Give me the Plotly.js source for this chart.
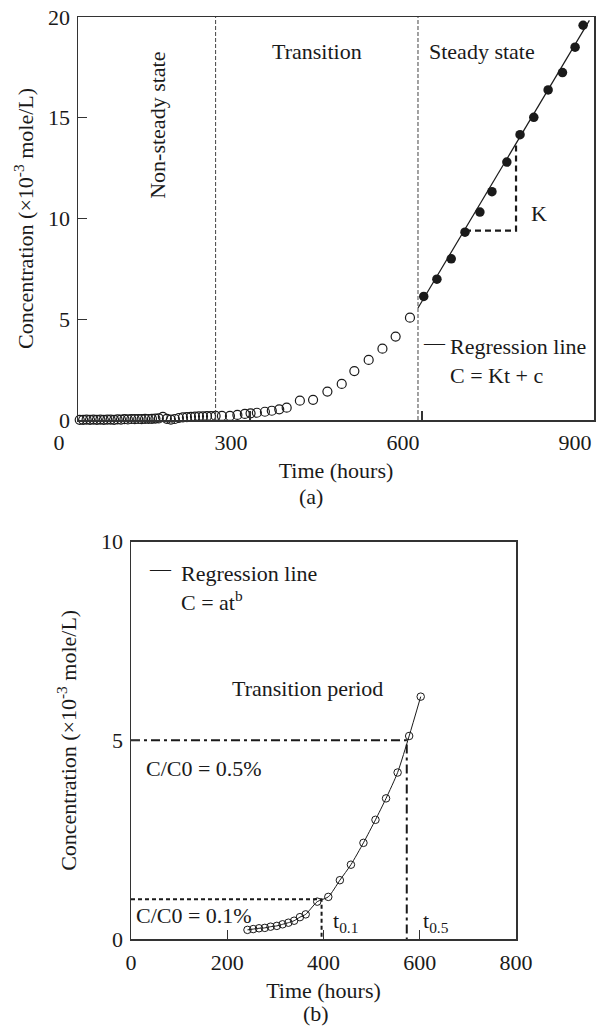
<!DOCTYPE html>
<html>
<head>
<meta charset="utf-8">
<script src="https://cdn.plot.ly/plotly-3.0.1.min.js"></script>
<style>html,body{margin:0;padding:0;background:#fff;}#chart{width:602px;height:1028px;}</style>
</head>
<body>
<div id="chart"></div>
<script>
// ---------- Panel (a) data ----------
const tA_open = [3, 9, 15, 21, 27, 33, 39, 45, 51, 57, 63, 69, 75, 81, 87, 93, 99, 105, 111, 117, 123, 129, 135, 141, 148, 155, 162, 169, 176, 183, 190, 197, 204, 211, 218, 225, 232, 240,
  251, 265, 278, 291, 301, 312, 326, 338, 351, 364, 387, 410, 435, 460, 482, 507, 531, 554, 579];
const cA_open = [0.01, 0.01, 0.02, 0.01, 0.02, 0.01, 0.02, 0.01, 0.02, 0.02, 0.01, 0.03, 0.02, 0.04, 0.03, 0.05, 0.04, 0.05, 0.04, 0.06, 0.05, 0.06, 0.07, 0.08, 0.16, 0.06, 0.02, 0.05, 0.10, 0.13, 0.14, 0.16, 0.17, 0.18, 0.18, 0.19, 0.19, 0.20,
  0.20, 0.20, 0.25, 0.30, 0.33, 0.36, 0.41, 0.46, 0.53, 0.61, 0.96, 1.00, 1.41, 1.79, 2.43, 2.98, 3.54, 4.14, 5.08];
const tA_fill = [603, 626, 651, 675, 701, 722, 748, 771, 795, 820, 845, 867, 881];
const cA_fill = [6.13, 6.99, 8.00, 9.32, 10.32, 11.33, 12.80, 14.16, 15.02, 16.38, 17.24, 18.50, 19.59];
const tA_reg = [593, 892];
const cA_reg = [5.56, 19.83];
const phaseBounds = [240, 593];
const kStep_t = [675, 764, 764];
const kStep_c = [9.4, 9.4, 13.8];
const xTicksA = [0, 300, 600, 900];
const yTicksA = [0, 5, 10, 15, 20];

// ---------- Panel (b) data ----------
const tB = [242, 254, 266, 278, 290, 303, 315, 327, 339, 351, 363, 387, 410, 434, 457, 483, 508, 530, 554, 578, 602];
const cB = [0.23, 0.25, 0.27, 0.28, 0.31, 0.33, 0.37, 0.41, 0.46, 0.55, 0.62, 0.94, 1.06, 1.48, 1.87, 2.42, 3.00, 3.54, 4.19, 5.11, 6.10];
const tB_half = [0, 573, 573];
const cB_half = [5, 5, 0];
const tB_tenth = [0, 396, 396];
const cB_tenth = [1, 1, 0];
const xTicksB = [0, 200, 400, 600, 800];
const yTicksB = [0, 5, 10];

const FONT = "Liberation Serif, Times New Roman, serif";
const INK = "#1a1a1a";
const FS = 22;

const traces = [
  {x: tA_open, y: cA_open, xaxis: 'x', yaxis: 'y', mode: 'markers', cliponaxis: false,
   marker: {symbol: 'circle-open', size: 9, color: INK, line: {width: 1.2, color: INK}}, showlegend: false},
  {x: tA_reg, y: cA_reg, xaxis: 'x', yaxis: 'y', mode: 'lines', line: {color: INK, width: 1.2}, showlegend: false},
  {x: tA_fill, y: cA_fill, xaxis: 'x', yaxis: 'y', mode: 'markers', cliponaxis: false,
   marker: {symbol: 'circle', size: 9.5, color: INK}, showlegend: false},
  {x: kStep_t, y: kStep_c, xaxis: 'x', yaxis: 'y', mode: 'lines', line: {color: INK, width: 2.2, dash: '6px,4px'}, showlegend: false},
  {x: tB_half, y: cB_half, xaxis: 'x2', yaxis: 'y2', mode: 'lines', line: {color: INK, width: 2, dash: '9px,4px,3px,4px'}, showlegend: false},
  {x: tB_tenth, y: cB_tenth, xaxis: 'x2', yaxis: 'y2', mode: 'lines', line: {color: INK, width: 2, dash: '4px,3px'}, showlegend: false},
  {x: tB, y: cB, xaxis: 'x2', yaxis: 'y2', mode: 'lines+markers', cliponaxis: false,
   line: {color: INK, width: 1, shape: 'spline', smoothing: 0.6},
   marker: {symbol: 'circle-open', size: 7.5, color: INK, line: {width: 1, color: INK}}, showlegend: false}
];

const shapes = phaseBounds.map(b => ({
  type: 'line', xref: 'x', yref: 'y', x0: b, x1: b, y0: 0, y1: 20,
  line: {color: '#444', width: 1, dash: '4px,2px'}
}));

const axisCommon = {
  showgrid: false, zeroline: false, showline: true, mirror: true,
  linecolor: '#333', linewidth: 1.5, ticks: 'inside', ticklen: 9, tickwidth: 1.3, tickcolor: '#333',
  tickfont: {family: FONT, size: FS, color: INK}, tickmode: 'array'
};

function ann(xref, yref, x, y, text, opts) {
  return Object.assign({xref: xref, yref: yref, x: x, y: y, text: text, showarrow: false,
    yanchor: 'middle', font: {family: FONT, size: FS, color: INK}}, opts || {});
}

const annotations = [
  ann('x', 'y', 139.5, 14.65, 'Non-steady state', {textangle: -90}),
  ann('x', 'y', 417, 18.3, 'Transition'),
  ann('x', 'y', 705, 18.3, 'Steady state'),
  ann('x', 'y', 804, 10.27, 'K'),
  ann('x', 'y', 622, 3.8, '—', {font: {family: FONT, size: 21, color: INK}}),
  ann('x', 'y', 645, 3.67, 'Regression line', {xanchor: 'left'}),
  ann('x', 'y', 645, 2.23, 'C = Kt + c', {xanchor: 'left'}),
  ann('paper', 'paper', 311/602, 1 - 496/1028, '(a)'),

  ann('x2', 'y2', 62, 9.32, '—', {font: {family: FONT, size: 21, color: INK}}),
  ann('x2', 'y2', 100, 9.2, 'Regression line', {xanchor: 'left'}),
  ann('x2', 'y2', 100, 8.52, 'C = at<sup>b</sup>', {xanchor: 'left'}),
  ann('x2', 'y2', 366.7, 6.31, 'Transition period'),
  ann('x2', 'y2', 151.7, 4.3, 'C/C0 = 0.5%'),
  ann('x2', 'y2', 129.9, 0.6, 'C/C0 = 0.1%'),
  ann('x2', 'y2', 416, 0.43, 't<sub>0.1</sub>', {xanchor: 'left'}),
  ann('x2', 'y2', 603, 0.43, 't<sub>0.5</sub>', {xanchor: 'left'}),
  ann('paper', 'paper', 316/602, 1 - 1027/1028, '(b)', {yanchor: 'bottom', borderpad: 0})
];

const layout = {
  width: 602, height: 1028,
  margin: {l: 0, r: 0, t: 0, b: 0, pad: 0},
  paper_bgcolor: '#fff', plot_bgcolor: '#fff',
  showlegend: false,
  font: {family: FONT, size: FS, color: INK},
  xaxis: Object.assign({}, axisCommon, {
    domain: [78/602, 594/602], range: [0, 900], tickvals: xTicksA, ticklabelshift: -19, ticklabelstandoff: 2,
    anchor: 'y',
    title: {text: 'Time (hours)', font: {family: FONT, size: FS, color: INK}, standoff: 8}
  }),
  yaxis: Object.assign({}, axisCommon, {
    domain: [1 - 420/1028, 1 - 17/1028], range: [0, 20], tickvals: yTicksA, ticklabelstandoff: 2,
    anchor: 'x',
    title: {text: 'Concentration (×10<sup>-3</sup> mole/L)', font: {family: FONT, size: FS, color: INK}, standoff: 8}
  }),
  xaxis2: Object.assign({}, axisCommon, {
    domain: [131/602, 516/602], range: [0, 800], tickvals: xTicksB, ticklabelstandoff: 3,
    anchor: 'y2',
    title: {text: 'Time (hours)', font: {family: FONT, size: FS, color: INK}, standoff: 8}
  }),
  yaxis2: Object.assign({}, axisCommon, {
    domain: [1 - 939/1028, 1 - 541.7/1028], range: [0, 10], tickvals: yTicksB, ticklabelstandoff: 2,
    anchor: 'x2',
    title: {text: 'Concentration (×10<sup>-3</sup> mole/L)', font: {family: FONT, size: FS, color: INK}, standoff: 18}
  }),
  shapes: shapes,
  annotations: annotations
};

Plotly.newPlot('chart', traces, layout, {staticPlot: true, displayModeBar: false});
</script>
</body>
</html>
